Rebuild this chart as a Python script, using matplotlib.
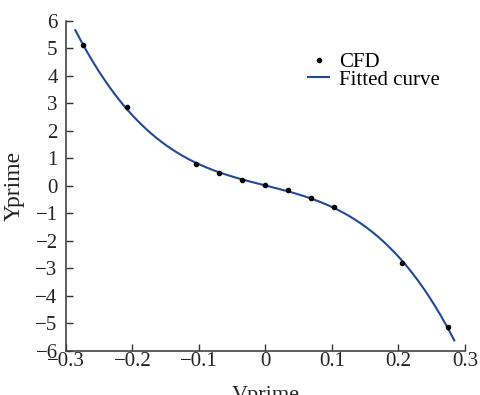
import numpy as np
import matplotlib
matplotlib.use("Agg")
import matplotlib.pyplot as plt

# CFD samples
vprime = [-0.275, -0.208, -0.105, -0.070, -0.036, 0.0, 0.034, 0.069, 0.103, 0.206, 0.274]
yprime = [5.12, 2.85, 0.78, 0.45, 0.21, 0.01, -0.16, -0.44, -0.78, -2.82, -5.13]

# range the fitted curve is drawn over
fit_range = (-0.286, 0.284)

x_ticks = [-0.3, -0.2, -0.1, 0, 0.1, 0.2, 0.3]
x_labels = ["\u22120.3", "\u22120.2", "\u22120.1", "0", "0.1", "0.2", "0.3"]
y_ticks = list(range(-6, 7))
y_labels = [("\u2212%d" % -v) if v < 0 else str(v) for v in y_ticks]

plt.rcParams["font.family"] = ["Liberation Serif", "DejaVu Serif"]

fig = plt.figure(figsize=(4.8, 3.95), dpi=100)
ax = fig.add_axes([0.1375, 0.112, 0.831, 0.836])

# cubic fit of the CFD points
coef = np.polyfit(vprime, yprime, 3)
xs = np.linspace(fit_range[0], fit_range[1], 200)
ax.plot(xs, np.polyval(coef, xs), color="#1f4a9a", lw=1.5, label="Fitted curve", zorder=2)
ax.plot(vprime, yprime, "o", color="black", ms=3, label="CFD", zorder=3)

ax.set_xlim(-0.3, 0.3)
ax.set_ylim(-6, 6)
ax.set_xticks(x_ticks)
ax.set_xticklabels(x_labels)
ax.set_yticks(y_ticks)
ax.set_yticklabels(y_labels)
ax.tick_params(direction="in", length=5, width=1, colors="#333333", labelsize=15)
ax.tick_params(axis="x", pad=1)
ax.tick_params(axis="y", pad=6)
ax.tick_params(labelcolor="#222222")
for side in ["top", "right"]:
    ax.spines[side].set_visible(False)
for side in ["left", "bottom"]:
    ax.spines[side].set_color("#444444")
    ax.spines[side].set_linewidth(1.2)

ax.set_xlabel("Vprime", fontsize=16, color="#222222")
ax.set_ylabel("Yprime", fontsize=17, color="#222222")
ax.xaxis.set_label_coords(0.5, -0.108)
ax.xaxis.label.set_va("top")
ax.yaxis.set_label_coords(-0.103, 0.5)

handles, labels = ax.get_legend_handles_labels()
ax.legend(handles[::-1], labels[::-1], loc="upper left", bbox_to_anchor=(0.607, 0.903),
          frameon=False, fontsize=15, handlelength=1.0, handletextpad=0.5,
          labelspacing=-0.1, borderpad=0, borderaxespad=0)

fig.savefig("out.png", dpi=100)
